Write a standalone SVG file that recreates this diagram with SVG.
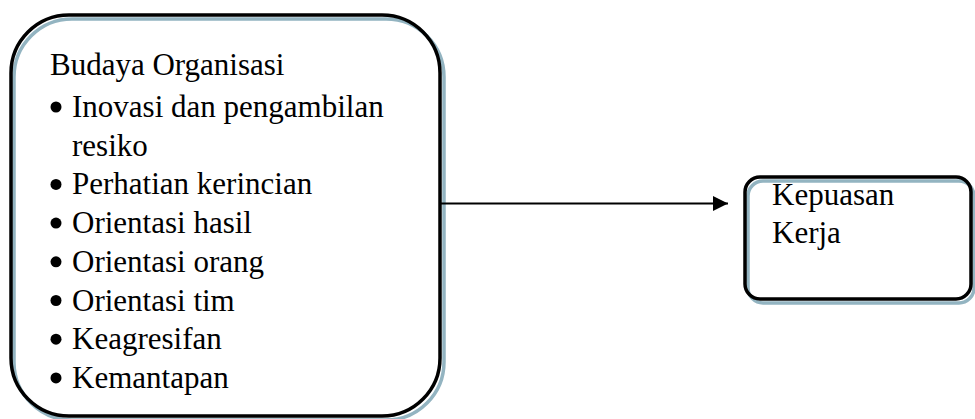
<svg xmlns="http://www.w3.org/2000/svg" width="975" height="419" viewBox="0 0 975 419">
  <defs>
    <marker id="arrowhead" viewBox="0 0 15 15" refX="15" refY="7.5" markerWidth="15" markerHeight="15" markerUnits="userSpaceOnUse" orient="auto">
      <path d="M0,0 L15,7.5 L0,15 Z" fill="#000"/>
    </marker>
  </defs>
  <style>
    .frame { fill: none; stroke: #000; stroke-width: 3.5; }
    .frame-shade { fill: none; stroke: #93b4c1; stroke-width: 3.5; }
    .label { font-family: "Liberation Serif", "Times New Roman", serif; font-size: 31px; fill: #000; }
    .bullet { fill: #000; }
    .link { stroke: #000; stroke-width: 1.8; fill: none; }
  </style>
  <rect width="975" height="419" fill="#fff"/>

  <g id="budaya-organisasi">
    <rect class="frame-shade" x="14" y="19" width="430" height="401" rx="58" ry="58"/>
    <rect class="frame" x="11" y="15" width="429" height="401" rx="58" ry="58"/>
    <text class="label" x="50" y="75">Budaya Organisasi</text>
    <g class="bullet">
      <circle cx="56" cy="107" r="5.5"/>
      <circle cx="56" cy="184.4" r="5.5"/>
      <circle cx="56" cy="223.1" r="5.5"/>
      <circle cx="56" cy="261.8" r="5.5"/>
      <circle cx="56" cy="300.5" r="5.5"/>
      <circle cx="56" cy="339.2" r="5.5"/>
      <circle cx="56" cy="377.9" r="5.5"/>
    </g>
    <text class="label" x="72" y="117">Inovasi dan pengambilan</text>
    <text class="label" x="72" y="155.7">resiko</text>
    <text class="label" x="72" y="194.4">Perhatian kerincian</text>
    <text class="label" x="72" y="233.1">Orientasi hasil</text>
    <text class="label" x="72" y="271.8">Orientasi orang</text>
    <text class="label" x="72" y="310.5">Orientasi tim</text>
    <text class="label" x="72" y="349.2">Keagresifan</text>
    <text class="label" x="72" y="387.9">Kemantapan</text>
  </g>

  <g id="kepuasan-kerja">
    <rect class="frame-shade" x="748" y="181" width="226" height="122" rx="15" ry="15"/>
    <rect class="frame" x="745" y="177" width="226" height="122" rx="15" ry="15"/>
    <text class="label" x="772" y="205">Kepuasan</text>
    <text class="label" x="772" y="243">Kerja</text>
  </g>

  <g id="connectors">
    <line class="link" x1="440" y1="203.5" x2="728" y2="203.5" marker-end="url(#arrowhead)"/>
  </g>
</svg>
